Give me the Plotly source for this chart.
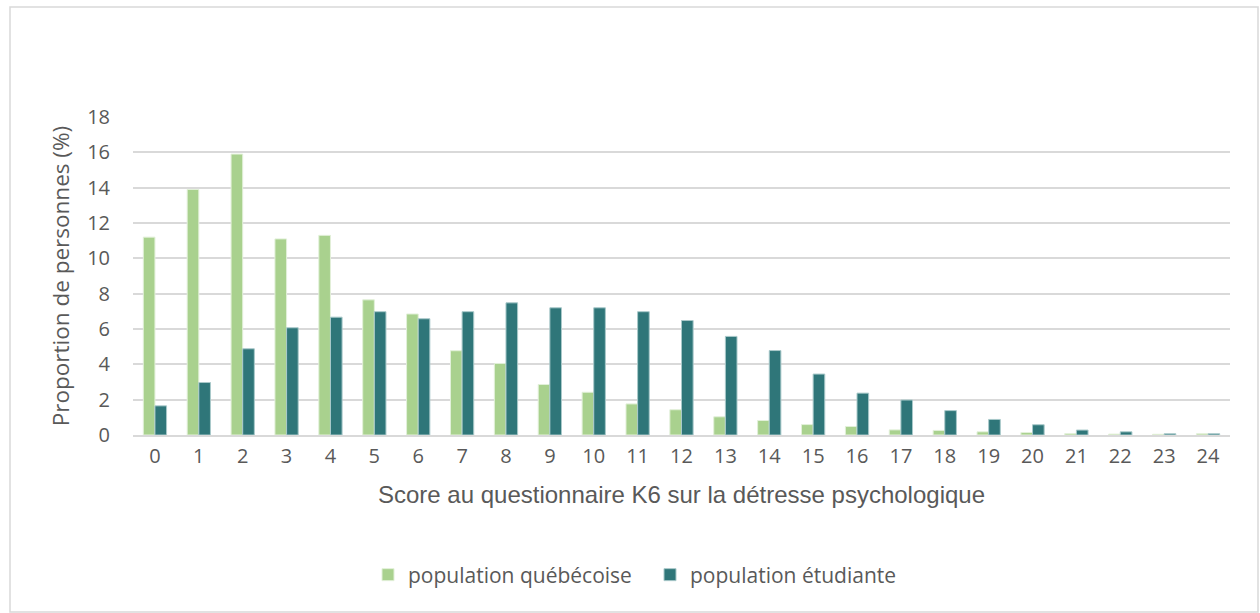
import plotly.graph_objects as go

scores = [str(i) for i in range(25)]
quebec = [11.2, 13.9, 15.9, 11.1, 11.3, 7.65, 6.85, 4.77, 4.05, 2.86, 2.42, 1.76, 1.43,
          1.03, 0.82, 0.59, 0.48, 0.29, 0.26, 0.18, 0.14, 0.08, 0.05, 0.04, 0.07]
etudiante = [1.65, 2.97, 4.88, 6.07, 6.67, 6.98, 6.58, 6.98, 7.48, 7.2, 7.2, 6.98, 6.48,
             5.58, 4.78, 3.45, 2.37, 1.98, 1.38, 0.88, 0.58, 0.28, 0.18, 0.07, 0.07]

y_ticks = list(range(0, 20, 2))

W, H = 1260, 613
L, R, T, B = 133, 30, 117, 178
pw, ph = W - L - R, H - T - B

fig = go.Figure()
fig.add_trace(go.Bar(x=scores, y=quebec, name="population québécoise",
                     marker=dict(color="#A9D18E", line=dict(color="#E2F0D9", width=1))))
fig.add_trace(go.Bar(x=scores, y=etudiante, name="population étudiante",
                     marker=dict(color="#2F7679", line=dict(color="#A9C9CA", width=1))))

sans = "Open Sans, Noto Sans, sans-serif"
arial = "Liberation Sans, Arial, sans-serif"
grey = "#595959"
fig.update_layout(
    width=W, height=H,
    margin=dict(l=L, r=R, t=T, b=B, autoexpand=False),
    paper_bgcolor="white", plot_bgcolor="white",
    barmode="group", bargap=0.47, bargroupgap=0,
    font=dict(family=sans, color=grey, size=18),
    showlegend=True,
    legend=dict(orientation="h", x=(368 - L) / pw, xanchor="left",
                yref="container", y=(H - 575) / H, yanchor="middle",
                entrywidth=237, itemwidth=30,
                font=dict(family=sans, size=21, color=grey), traceorder="normal"),
    xaxis=dict(
        title=dict(text="Score au questionnaire K6 sur la détresse psychologique",
                   font=dict(family=arial, size=24, color=grey), standoff=18),
        tickfont=dict(family=sans, size=20, color=grey),
        showgrid=False, showline=True, linecolor="#D9D9D9", linewidth=1.5,
        ticks="", ticklabelstandoff=2, automargin=False,
    ),
    yaxis=dict(
        title=dict(text="Proportion de personnes (%)",
                   font=dict(family=sans, size=22.5, color=grey), standoff=11),
        range=[0, 18], tickvals=y_ticks, tickfont=dict(family=sans, size=20, color=grey),
        showgrid=True, gridcolor="#D9D9D9", gridwidth=1.5, zeroline=False,
        ticks="", ticklabelstandoff=22, automargin=False,
    ),
)

# outer chart border
fig.add_shape(type="rect", xref="paper", yref="paper",
              x0=(10 - L) / pw, x1=(1258 - L) / pw,
              y0=(H - 612 - B) / ph, y1=(H - 7 - B) / ph,
              line=dict(color="#D9D9D9", width=1.5), fillcolor="rgba(0,0,0,0)", layer="below")

fig.write_html("out.html", config={"displayModeBar": False},
               post_script="document.body.style.margin='0';document.body.style.overflow='hidden';")
